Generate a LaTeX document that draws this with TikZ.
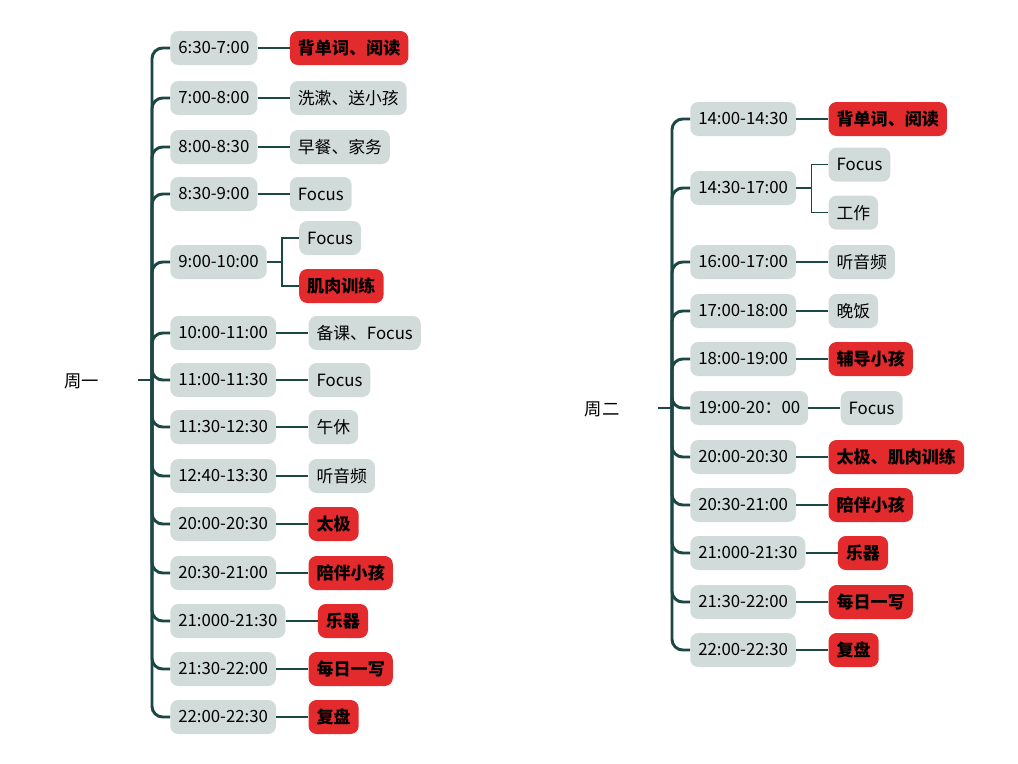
\documentclass[tikz,border=0pt]{standalone}
\usepackage{fontspec}
\setmainfont{Noto Sans CJK SC}
\usetikzlibrary{positioning}

\definecolor{trunkteal}{HTML}{1B4845}
\definecolor{boxgray}{HTML}{D1DBDA}
\definecolor{boxred}{HTML}{E32B2E}

\tikzset{
	timebox/.style={fill=boxgray, rounded corners=6pt, minimum height=25.5pt, inner xsep=6pt, anchor=west, font=\fontsize{12.6}{14}\selectfont},
	leafbox/.style={timebox},
	hotbox/.style={timebox, fill=boxred, font=\fontsize{12.8}{14}\selectfont\bfseries},
	branch/.style={draw=trunkteal, line width=2.2pt, rounded corners=8pt},
	twig/.style={draw=trunkteal, line width=1.1pt}
}

\begin{document}
\begin{tikzpicture}[x=0.75pt,y=-0.75pt]

	%Frame
	\useasboundingbox (0,0) rectangle (1018,764);

	%Monday
	\node[font=\fontsize{13}{14}\selectfont] (day1) at (82,381) {周一};
	\coordinate (stub1) at (138,380);
	\coordinate (hub1) at (152,380);

	\node[timebox] (m1) at (170,48) {6:30-7:00};
	\node[hotbox, right=24pt of m1] (m1l) {背单词、阅读};

	\node[timebox] (m2) at (170,98) {7:00-8:00};
	\node[leafbox, right=24pt of m2] (m2l) {洗漱、送小孩};

	\node[timebox] (m3) at (170,147) {8:00-8:30};
	\node[leafbox, right=24pt of m3] (m3l) {早餐、家务};

	\node[timebox] (m4) at (170,194) {8:30-9:00};
	\node[leafbox, right=24pt of m4] (m4l) {Focus};

	\node[timebox] (m5) at (170,262) {9:00-10:00};
	\node[leafbox] (m5a) at ([xshift=24pt, yshift=18pt]m5.east) {Focus};
	\node[hotbox] (m5b) at ([xshift=24pt, yshift=-18pt]m5.east) {肌肉训练};

	\node[timebox] (m6) at (170,333) {10:00-11:00};
	\node[leafbox, right=24pt of m6] (m6l) {备课、Focus};

	\node[timebox] (m7) at (170,380) {11:00-11:30};
	\node[leafbox, right=24pt of m7] (m7l) {Focus};

	\node[timebox] (m8) at (170,427) {11:30-12:30};
	\node[leafbox, right=24pt of m8] (m8l) {午休};

	\node[timebox] (m9) at (170,476) {12:40-13:30};
	\node[leafbox, right=24pt of m9] (m9l) {听音频};

	\node[timebox] (m10) at (170,524) {20:00-20:30};
	\node[hotbox, right=24pt of m10] (m10l) {太极};

	\node[timebox] (m11) at (170,573) {20:30-21:00};
	\node[hotbox, right=24pt of m11] (m11l) {陪伴小孩};

	\node[timebox] (m12) at (170,621) {21:000-21:30};
	\node[hotbox, right=24pt of m12] (m12l) {乐器};

	\node[timebox] (m13) at (170,669) {21:30-22:00};
	\node[hotbox, right=24pt of m13] (m13l) {每日一写};

	\node[timebox] (m14) at (170,717) {22:00-22:30};
	\node[hotbox, right=24pt of m14] (m14l) {复盘};

	%Monday branches
	\draw[branch] (stub1) -- (hub1);
	\foreach \i in {1,...,14}
		\draw[branch] (hub1) |- (m\i.west);
	\foreach \i in {1,2,3,4,6,7,8,9,10,11,12,13,14}
		\draw[twig] (m\i.east) -- (m\i l.west);
	\draw[twig] (m5.east) -- ++(15,0) |- (m5a.west);
	\draw[twig] (m5.east) -- ++(15,0) |- (m5b.west);

	%Tuesday
	\node[font=\fontsize{13}{14}\selectfont] (day2) at (602,409) {周二};
	\coordinate (stub2) at (658,408);
	\coordinate (hub2) at (672,408);

	\node[timebox] (t1) at (690,119) {14:00-14:30};
	\node[hotbox, right=24pt of t1] (t1l) {背单词、阅读};

	\node[timebox] (t2) at (690,188) {14:30-17:00};
	\node[leafbox] (t2a) at ([xshift=24pt, yshift=17.5pt]t2.east) {Focus};
	\node[leafbox] (t2b) at ([xshift=24pt, yshift=-18.5pt]t2.east) {工作};

	\node[timebox] (t3) at (690,262) {16:00-17:00};
	\node[leafbox, right=24pt of t3] (t3l) {听音频};

	\node[timebox] (t4) at (690,311) {17:00-18:00};
	\node[leafbox, right=24pt of t4] (t4l) {晚饭};

	\node[timebox] (t5) at (690,359) {18:00-19:00};
	\node[hotbox, right=24pt of t5] (t5l) {辅导小孩};

	\node[timebox] (t6) at (690,408) {19:00-20：00};
	\node[leafbox, right=24pt of t6] (t6l) {Focus};

	\node[timebox] (t7) at (690,457) {20:00-20:30};
	\node[hotbox, right=24pt of t7] (t7l) {太极、肌肉训练};

	\node[timebox] (t8) at (690,505) {20:30-21:00};
	\node[hotbox, right=24pt of t8] (t8l) {陪伴小孩};

	\node[timebox] (t9) at (690,553) {21:000-21:30};
	\node[hotbox, right=24pt of t9] (t9l) {乐器};

	\node[timebox] (t10) at (690,602) {21:30-22:00};
	\node[hotbox, right=24pt of t10] (t10l) {每日一写};

	\node[timebox] (t11) at (690,650) {22:00-22:30};
	\node[hotbox, right=24pt of t11] (t11l) {复盘};

	%Tuesday branches
	\draw[branch] (stub2) -- (hub2);
	\foreach \i in {1,...,11}
		\draw[branch] (hub2) |- (t\i.west);
	\foreach \i in {1,3,4,5,6,7,8,9,10,11}
		\draw[twig] (t\i.east) -- (t\i l.west);
	\draw[twig] (t2.east) -- ++(15,0) |- (t2a.west);
	\draw[twig] (t2.east) -- ++(15,0) |- (t2b.west);

\end{tikzpicture}
\end{document}
